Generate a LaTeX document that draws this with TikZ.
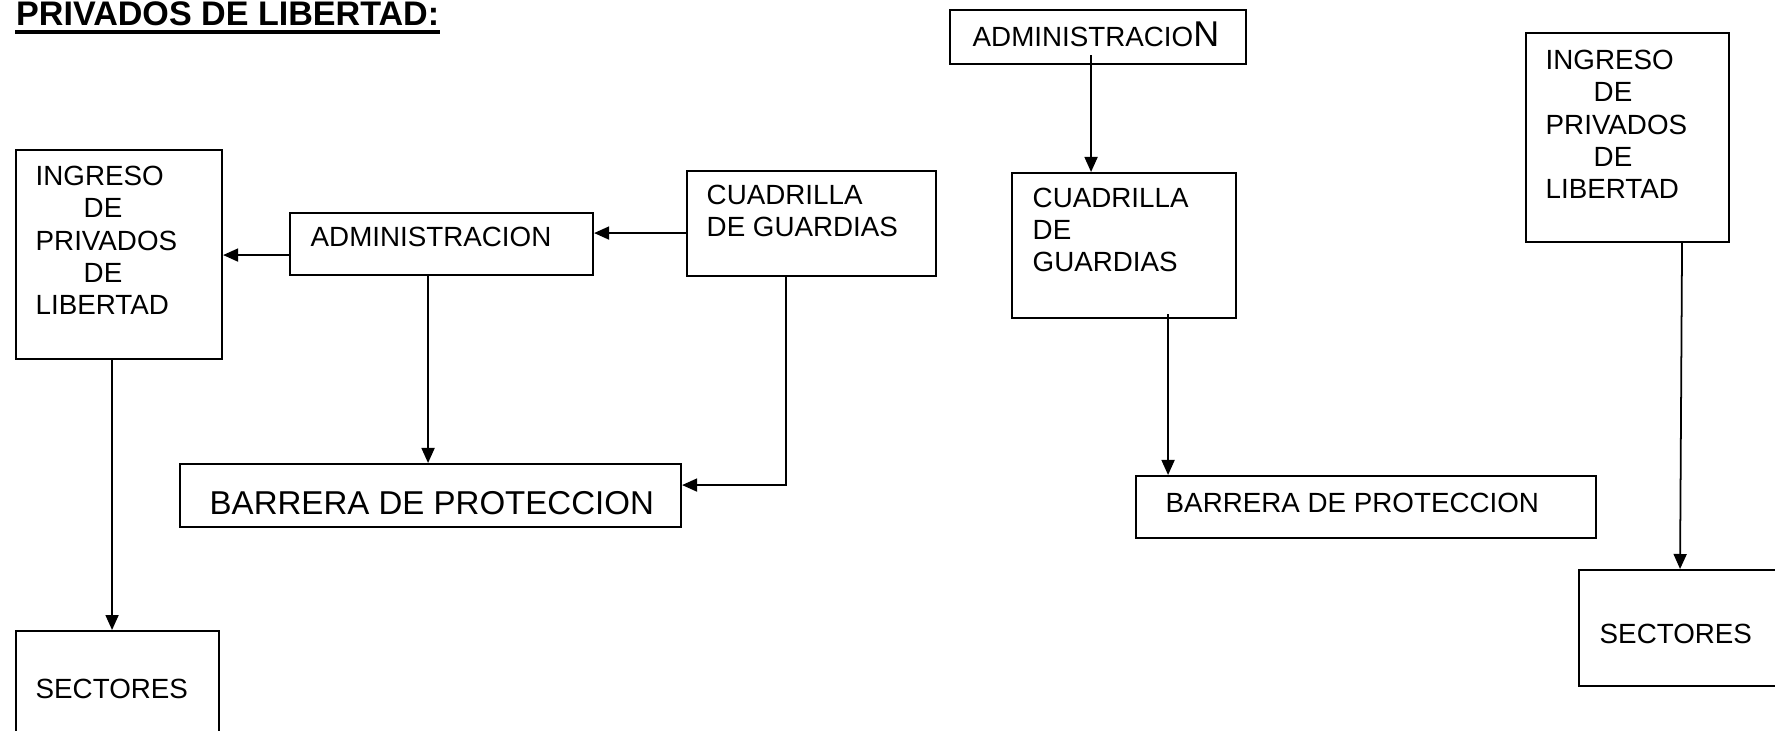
\documentclass[tikz,border=0pt]{standalone}
\usepackage{fontspec}
\setmainfont{Liberation Sans}
\usetikzlibrary{arrows.meta,positioning,calc}

\begin{document}
\begin{tikzpicture}
        \useasboundingbox (0,0) rectangle (17.75,-7.31);
        \tikzset{
            box/.style={draw, line width=0.6pt, anchor=north west, inner sep=0pt},
            txt/.style={anchor=base west, inner sep=0pt, align=left,
                font=\fontsize{7.9}{9.2}\selectfont},
            arr/.style={line width=0.5pt, -{Triangle[length=0.15cm, width=0.13cm]}}
        }
        \def\ind{\hspace*{0.48cm}}

        % titulo
        \node[anchor=base west, inner sep=0pt, font=\fontsize{9.7}{11}\selectfont\bfseries]
            (titulo) at (0.155, -0.26) {PRIVADOS DE LIBERTAD:};
        \draw[line width=0.9pt] ([yshift=-0.06cm]titulo.base west) -- ([yshift=-0.06cm]titulo.base east);

        % primer esquema (texto anclado en la ultima linea)
        \begin{scope}
            \node[box, minimum width=2.06cm, minimum height=2.09cm] (ingL) at (0.15, -1.49) {};
            \node[box, minimum width=3.03cm, minimum height=0.62cm] (adminL) at (2.89, -2.12) {};
            \node[box, minimum width=2.49cm, minimum height=1.05cm] (cuadL) at (6.86, -1.70) {};
            \node[box, minimum width=5.01cm, minimum height=0.63cm] (barL) at (1.79, -4.63) {};
            \node[box, minimum width=2.03cm, minimum height=1.17cm] (secL) at (0.15, -6.30) {};

            \node[txt] (ingLt) at (0.35, -3.15)
            {INGRESO\\\ind DE\\PRIVADOS\\\ind DE\\LIBERTAD};
            \node[txt] (adminLt) at (3.10, -2.47) {ADMINISTRACION};
            \node[txt] (cuadLt) at (7.06, -2.37) {CUADRILLA\\DE GUARDIAS};
            \node[txt, font=\fontsize{9.4}{11}\selectfont] (barLt) at (2.09, -5.14) {BARRERA DE PROTECCION};
            \node[txt] (secLt) at (0.35, -6.98) {SECTORES};
        \end{scope}

        \begin{scope}
            \draw[arr] ([yshift=-0.11cm]adminL.west) -- ([yshift=-0.11cm]adminL.west -| ingL.east);
            \draw[arr] ([yshift=-0.095cm]cuadL.west) -- ([yshift=-0.095cm]cuadL.west -| adminL.east);
            \draw[arr] ([xshift=-0.135cm]adminL.south) -- ([xshift=-0.135cm]adminL.south |- barL.north);
            \draw[arr] ([xshift=-0.255cm]cuadL.south) |- ([yshift=0.105cm]barL.east);
            \draw[arr] ([xshift=-0.07cm]ingL.south) -- ([xshift=-0.07cm]ingL.south |- secL.north);
        \end{scope}

        % segundo esquema
        \begin{scope}
            \node[box, minimum width=2.96cm, minimum height=0.54cm] (adminR) at (9.49, -0.09) {};
            \node[box, minimum width=2.24cm, minimum height=1.45cm] (cuadR) at (10.11, -1.72) {};
            \node[box, minimum width=4.60cm, minimum height=0.62cm] (barR) at (11.35, -4.75) {};
            \node[box, minimum width=2.03cm, minimum height=2.09cm] (ingR) at (15.25, -0.32) {};
            \node[box, minimum width=2.02cm, minimum height=1.16cm] (secR) at (15.78, -5.69) {};

            \node[txt] (adminRt) at (9.72, -0.47)
            {ADMINISTRACIO{\fontsize{10.2}{12}\selectfont N}};
            \node[txt] (cuadRt) at (10.32, -2.72) {CUADRILLA\\DE\\GUARDIAS};
            \node[txt] (barRt) at (11.65, -5.12) {BARRERA DE PROTECCION};
            \node[txt] (ingRt) at (15.45, -1.99)
            {INGRESO\\\ind DE\\PRIVADOS\\\ind DE\\LIBERTAD};
            \node[txt] (secRt) at (15.99, -6.43) {SECTORES};
        \end{scope}

        \begin{scope}
            \draw[arr] ([shift={(-0.07cm,0.1cm)}]adminR.south) -- ([xshift=-0.07cm]adminR.south |- cuadR.north);
            \draw[arr] ([shift={(0.44cm,0.05cm)}]cuadR.south) -- ([xshift=0.44cm]cuadR.south |- barR.north);
            \draw[arr] ([xshift=0.545cm]ingR.south) -- (secR.north);
        \end{scope}

\end{tikzpicture}
\end{document}
